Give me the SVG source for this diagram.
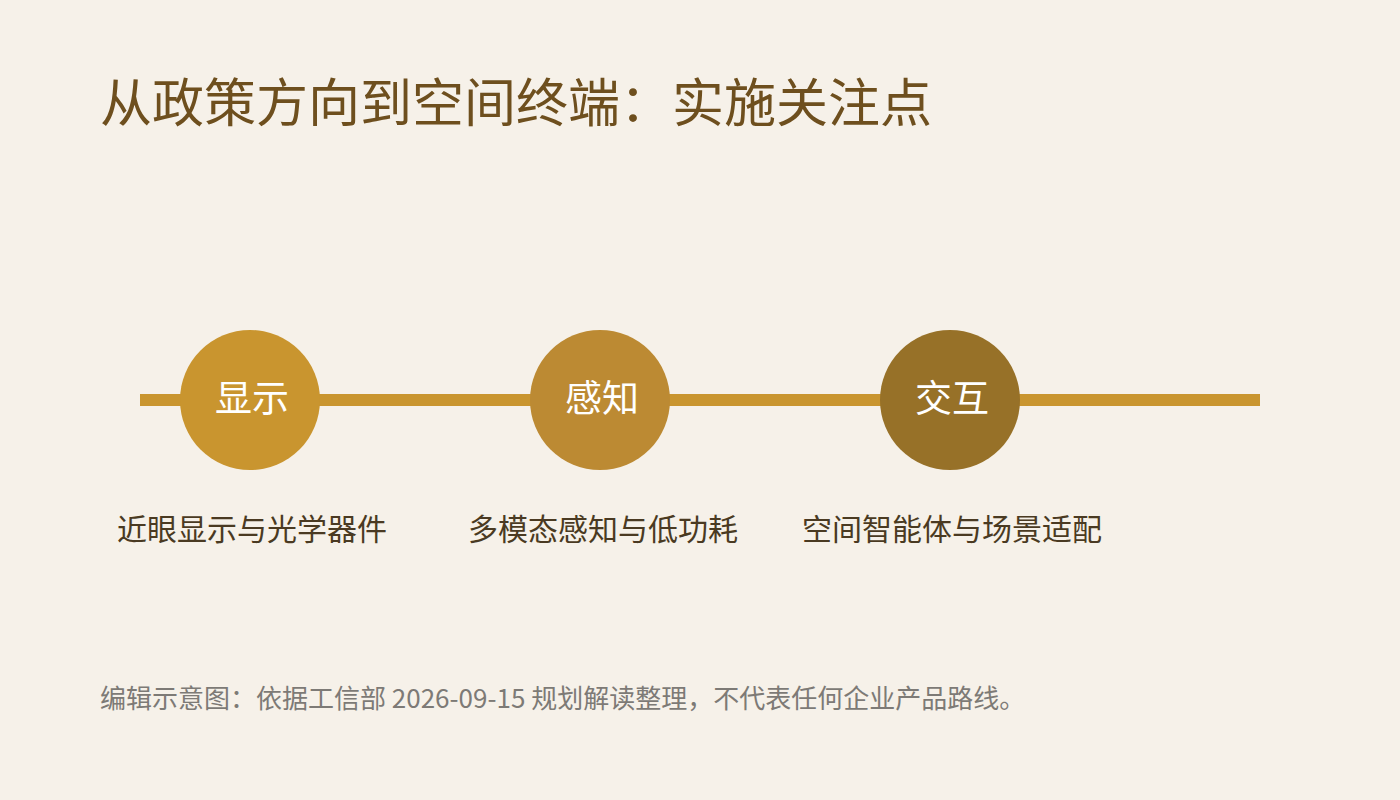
<svg xmlns="http://www.w3.org/2000/svg" width="1400" height="800" viewBox="0 0 1400 800">
  <style>
    .cjk { font-family: "Noto Sans CJK SC", "Noto Sans", sans-serif; }
    .title { font-size: 52px; fill: #6E4F1E; font-weight: 400; }
    .lbl { font-size: 37px; fill: #FFFFFF; text-anchor: middle; }
    .sub { font-size: 30px; fill: #4A3A22; text-anchor: middle; }
    .foot { font-size: 26px; fill: #7D7A76; }
  </style>
  <rect x="0" y="0" width="1400" height="800" fill="#F6F1E9"/>
  <text class="cjk title" x="100" y="122">从政策方向到空间终端：实施关注点</text>
  <g id="connectors">
    <rect x="140" y="394" width="1120" height="12" fill="#C9952F"/>
  </g>
  <g id="node-display">
    <circle cx="250" cy="400" r="70" fill="#C9952F"/>
    <text class="cjk lbl" x="252" y="412">显示</text>
    <text class="cjk sub" x="252" y="540">近眼显示与光学器件</text>
  </g>
  <g id="node-perception">
    <circle cx="600" cy="400" r="70" fill="#BC8A33"/>
    <text class="cjk lbl" x="602" y="412">感知</text>
    <text class="cjk sub" x="603" y="540">多模态感知与低功耗</text>
  </g>
  <g id="node-interaction">
    <circle cx="950" cy="400" r="70" fill="#977128"/>
    <text class="cjk lbl" x="952" y="412">交互</text>
    <text class="cjk sub" x="952" y="540">空间智能体与场景适配</text>
  </g>
  <text class="cjk foot" x="100" y="708">编辑示意图：依据工信部 2026-09-15 规划解读整理，不代表任何企业产品路线。</text>
</svg>
